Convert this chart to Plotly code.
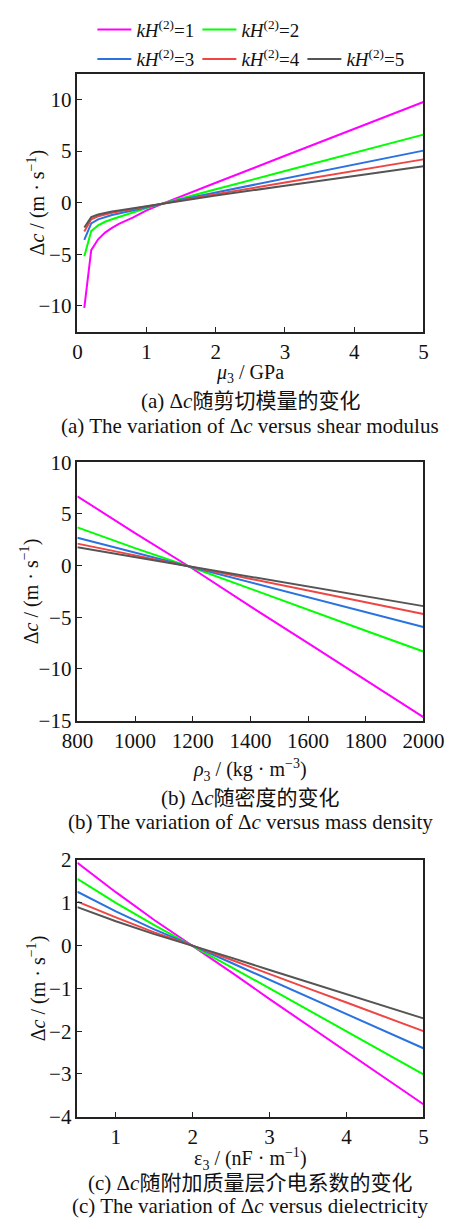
import plotly.graph_objects as go

# ---- data -------------------------------------------------------------
kh_labels = ["1", "2", "3", "4", "5"]
colors = ["#FF00FF", "#00FF00", "#2A72E0", "#F04545", "#555555"]

# (a) shear modulus mu3 (GPa)
mu3 = [0.1, 0.2, 0.3, 0.4, 0.5, 0.6, 0.8, 1.0, 1.27, 1.5, 2.0, 3.0, 4.0, 5.0]
dc_mu = [
    [-10.2, -4.6, -3.55, -2.9, -2.45, -2.05, -1.45, -0.75, 0.0, 0.62, 1.93, 4.55, 7.15, 9.76],
    [-5.2, -2.75, -2.2, -1.85, -1.6, -1.38, -0.98, -0.52, 0.0, 0.42, 1.3, 3.07, 4.84, 6.6],
    [-3.6, -2.0, -1.62, -1.38, -1.2, -1.04, -0.74, -0.39, 0.0, 0.32, 0.99, 2.34, 3.7, 5.05],
    [-2.8, -1.6, -1.32, -1.12, -0.97, -0.85, -0.61, -0.33, 0.0, 0.27, 0.83, 1.95, 3.08, 4.2],
    [-2.4, -1.4, -1.15, -0.98, -0.86, -0.75, -0.54, -0.29, 0.0, 0.23, 0.7, 1.64, 2.59, 3.54],
]

# (b) mass density rho3 (kg/m^3)
rho3 = [800, 1000, 1200, 1400, 1600, 1800, 2000]
dc_rho = [
    [6.71, 3.15, -0.3, -3.95, -7.5, -11.1, -14.67],
    [3.7, 1.7, -0.2, -2.25, -4.25, -6.3, -8.31],
    [2.7, 1.25, -0.15, -1.6, -3.05, -4.5, -5.94],
    [2.13, 0.98, -0.12, -1.26, -2.4, -3.55, -4.68],
    [1.78, 0.82, -0.1, -1.06, -2.0, -2.97, -3.92],
]

# (c) dielectric constant eps3 (nF/m)
eps3 = [0.5, 1.0, 1.5, 2.0, 2.5, 3.0, 3.5, 4.0, 4.5, 5.0]
dc_eps = [
    [1.94, 1.25, 0.6, 0.0, -0.62, -1.25, -1.87, -2.48, -3.1, -3.71],
    [1.56, 1.0, 0.48, 0.0, -0.5, -1.0, -1.5, -2.0, -2.5, -3.01],
    [1.26, 0.8, 0.38, 0.0, -0.4, -0.8, -1.2, -1.6, -2.0, -2.4],
    [1.03, 0.66, 0.31, 0.0, -0.33, -0.67, -1.0, -1.33, -1.66, -2.0],
    [0.9, 0.57, 0.27, 0.0, -0.28, -0.57, -0.85, -1.13, -1.42, -1.7],
]

# ---- layout constants -------------------------------------------------
W, H = 464, 1229
FONT = "'Liberation Serif', 'Times New Roman', 'Noto Sans CJK SC', serif"
x_dom = [66.7 / W, 442.7 / W]


def ydom(top_px, bottom_px):
    return [1 - bottom_px / H, 1 - top_px / H]


fig = go.Figure()

panels = [
    ("x", "y", mu3, dc_mu),
    ("x2", "y2", rho3, dc_rho),
    ("x3", "y3", eps3, dc_eps),
]

for p, (xa, ya, xs, series) in enumerate(panels):
    for i, ys in enumerate(series):
        fig.add_trace(go.Scatter(
            x=xs, y=ys, xaxis=xa, yaxis=ya, mode="lines",
            line=dict(color=colors[i], width=2),
            name="<i>kH</i><sup>(2)</sup>=" + kh_labels[i],
            showlegend=(p == 0),
            legend="legend" if i < 2 else "legend2",
        ))

axis_common = dict(
    showline=True, linecolor="#222222", linewidth=1.5, mirror=True,
    ticks="inside", ticklen=5, tickwidth=1.3, tickcolor="#222222",
    showgrid=False, zeroline=False,
    tickfont=dict(family=FONT, size=21, color="#111111"),
)

legend_common = dict(
    orientation="h", xanchor="left", yanchor="middle",
    font=dict(family=FONT, size=19, color="#111111"),
    entrywidth=56, itemwidth=34,
    bgcolor="rgba(0,0,0,0)", tracegroupgap=0,
)

fig.update_layout(
    width=W, height=H,
    margin=dict(l=0, r=0, t=0, b=0),
    paper_bgcolor="white", plot_bgcolor="white",
    font=dict(family=FONT, size=20, color="#111111"),
    xaxis=dict(domain=x_dom, range=[0, 5], tickvals=[0, 1, 2, 3, 4, 5], anchor="y", **axis_common),
    yaxis=dict(domain=ydom(63, 326), range=[-12.5, 12.5], tickvals=[-10, -5, 0, 5, 10], anchor="x", **axis_common),
    xaxis2=dict(domain=x_dom, range=[800, 2000], tickvals=[800, 1000, 1200, 1400, 1600, 1800, 2000], anchor="y2", **axis_common),
    yaxis2=dict(domain=ydom(459.3, 722.7), range=[-15, 10], tickvals=[-15, -10, -5, 0, 5, 10], anchor="x2", **axis_common),
    xaxis3=dict(domain=x_dom, range=[0.5, 5], tickvals=[1, 2, 3, 4, 5], anchor="y3", **axis_common),
    yaxis3=dict(domain=ydom(865, 1126.7), range=[-4, 2], tickvals=[-4, -3, -2, -1, 0, 1, 2], anchor="x3", **axis_common),
    legend=dict(x=83 / W, y=1 - 18 / H, **legend_common),
    legend2=dict(x=83 / W, y=1 - 48 / H, **legend_common),
)

ytitle = "Δ<i>c</i> / (m · s<sup>−1</sup>)"
texts = [
    # y-axis titles
    (22.5, 194.5, ytitle, -90, 20),
    (15, 591, ytitle, -90, 20),
    (22.5, 996, ytitle, -90, 20),
    # x-axis titles
    (254.7, 369, "<i>μ</i><sub>3</sub> / GPa", 0, 20),
    (254.7, 773, "<i>ρ</i><sub>3</sub> / (kg · m<sup>−3</sup>)", 0, 20),
    (254.7, 1170, "ε<sub>3</sub> / (nF · m<sup>−1</sup>)", 0, 20),
    # captions
    (254.7, 397, "(a) Δ<i>c</i>随剪切模量的变化", 0, 21),
    (254.7, 422, "(a) The variation of Δ<i>c</i> versus shear modulus", 0, 21),
    (254.7, 802, "(b) Δ<i>c</i>随密度的变化", 0, 21),
    (254.7, 826.5, "(b) The variation of Δ<i>c</i> versus mass density", 0, 21),
    (254.7, 1194, "(c) Δ<i>c</i>随附加质量层介电系数的变化", 0, 21),
    (254.7, 1218, "(c) The variation of Δ<i>c</i> versus dielectricity", 0, 21),
]
for x, y, t, ang, sz in texts:
    fig.add_annotation(
        x=x / W, y=1 - y / H, xref="paper", yref="paper",
        text=t, showarrow=False, textangle=ang,
        xanchor="center", yanchor="middle",
        font=dict(family=FONT, size=sz, color="#111111"),
    )

fig.write_html("out.html")
